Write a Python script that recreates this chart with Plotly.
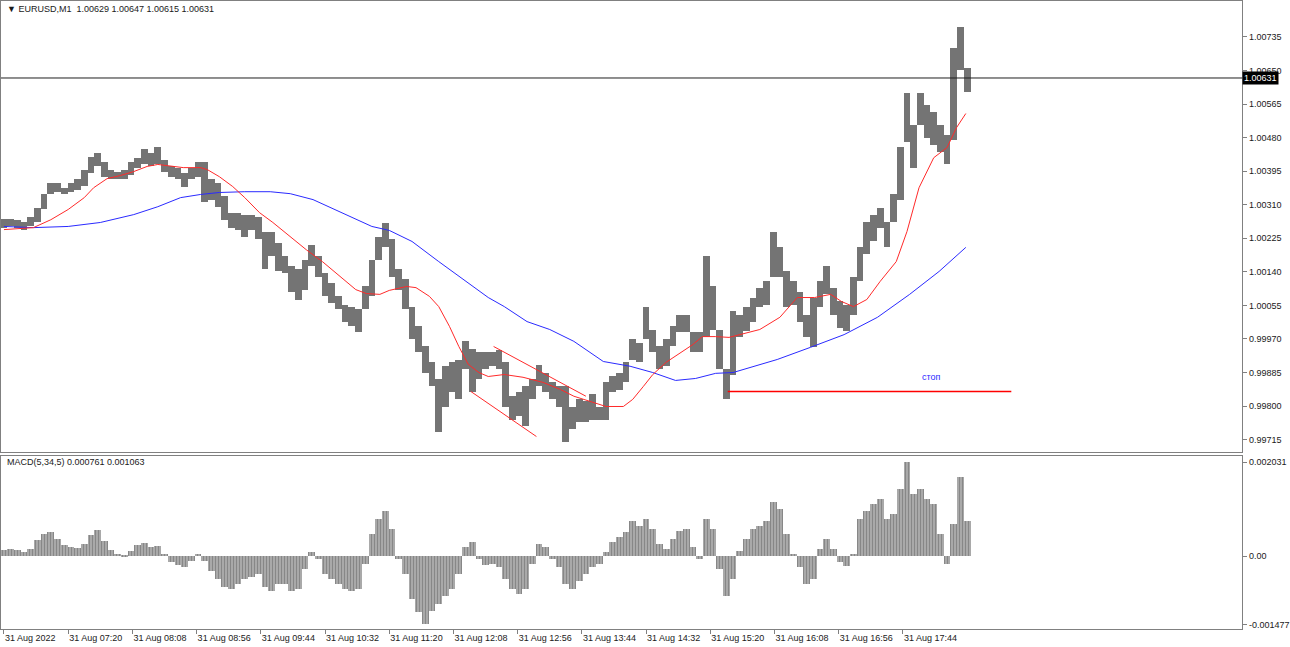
import plotly.graph_objects as go

# ---------------- data (EURUSD M1, 31 Aug 2022) ----------------
# price columns: one column per 5 minutes, minutes counted from 06:32
col_minutes = [5 * k for k in range(145)]

price_high = [
    1.00275, 1.00275, 1.00272, 1.00267, 1.00278, 1.00303, 1.00336, 1.00366, 1.00366, 1.00353,
    1.00364, 1.00374, 1.00399, 1.00432, 1.00442, 1.00419, 1.00399, 1.00394, 1.00399, 1.00417,
    1.00429, 1.00452, 1.00442, 1.00455, 1.00424, 1.00407, 1.00404, 1.00391, 1.00404, 1.00419,
    1.00417, 1.00374, 1.00366, 1.00331, 1.00290, 1.00290, 1.00285, 1.00285, 1.00280, 1.00242,
    1.00242, 1.00214, 1.00179, 1.00154, 1.00146, 1.00171, 1.00207, 1.00179, 1.00138, 1.00113,
    1.00078, 1.00057, 1.00050, 1.00045, 1.00103, 1.00171, 1.00229, 1.00265, 1.00222, 1.00146,
    1.00121, 1.00052, 1.00002, 0.99951, 0.99911, 0.99868, 0.99901, 0.99911, 0.99918, 0.99964,
    0.99944, 0.99936, 0.99938, 0.99936, 0.99941, 0.99911, 0.99825, 0.99835, 0.99850, 0.99868,
    0.99903, 0.99885, 0.99860, 0.99850, 0.99850, 0.99799, 0.99817, 0.99812, 0.99830, 0.99799,
    0.99860, 0.99875, 0.99885, 0.99911, 0.99969, 0.99961, 1.00052, 0.99994, 0.99951, 0.99969,
    1.00002, 1.00032, 1.00032, 0.99987, 0.99987, 1.00179, 1.00103, 0.99994, 0.99893, 1.00040,
    1.00032, 1.00050, 1.00075, 1.00100, 1.00116, 1.00242, 1.00202, 1.00141, 1.00116, 1.00090,
    1.00032, 1.00075, 1.00116, 1.00154, 1.00100, 1.00065, 1.00057, 1.00126, 1.00202, 1.00267,
    1.00285, 1.00303, 1.00267, 1.00336, 1.00455, 1.00594, 1.00513, 1.00594, 1.00563, 1.00546,
    1.00513, 1.00487, 1.00708, 1.00761, 1.00657,
]
price_low = [
    1.00250, 1.00255, 1.00252, 1.00247, 1.00255, 1.00267, 1.00298, 1.00336, 1.00343, 1.00338,
    1.00343, 1.00348, 1.00358, 1.00391, 1.00407, 1.00381, 1.00376, 1.00374, 1.00374, 1.00386,
    1.00404, 1.00412, 1.00407, 1.00412, 1.00394, 1.00381, 1.00374, 1.00356, 1.00374, 1.00379,
    1.00318, 1.00323, 1.00305, 1.00272, 1.00252, 1.00247, 1.00229, 1.00247, 1.00222, 1.00146,
    1.00179, 1.00141, 1.00138, 1.00088, 1.00070, 1.00095, 1.00154, 1.00128, 1.00078, 1.00062,
    1.00045, 1.00012, 1.00002, 0.99987, 1.00045, 1.00078, 1.00171, 1.00204, 1.00128, 1.00095,
    1.00045, 0.99969, 0.99936, 0.99885, 0.99850, 0.99734, 0.99799, 0.99835, 0.99817, 0.99893,
    0.99835, 0.99868, 0.99893, 0.99901, 0.99893, 0.99799, 0.99766, 0.99774, 0.99749, 0.99817,
    0.99850, 0.99835, 0.99817, 0.99799, 0.99708, 0.99741, 0.99759, 0.99759, 0.99766, 0.99766,
    0.99766, 0.99835, 0.99842, 0.99860, 0.99918, 0.99911, 0.99969, 0.99936, 0.99893, 0.99901,
    0.99951, 0.99987, 0.99987, 0.99936, 0.99936, 0.99976, 0.99994, 0.99893, 0.99817, 0.99880,
    0.99974, 0.99989, 1.00014, 1.00050, 1.00057, 1.00126, 1.00126, 1.00050, 1.00057, 1.00014,
    0.99974, 0.99949, 1.00050, 1.00083, 1.00032, 0.99999, 0.99989, 1.00032, 1.00116, 1.00184,
    1.00217, 1.00252, 1.00202, 1.00267, 1.00323, 1.00470, 1.00404, 1.00513, 1.00480, 1.00462,
    1.00444, 1.00412, 1.00475, 1.00652, 1.00596,
]

# moving averages (red = fast, blue = slow)
red_minutes = [0, 22, 35, 48, 60, 67, 77, 87, 97, 107, 115, 122, 134, 147, 152, 161, 171, 180, 191, 201,
               214, 226, 238, 251, 263, 271, 281, 288, 301, 308, 318, 325, 333, 340, 347, 355, 362, 374, 388, 403,
               416, 426, 438, 450, 463, 470, 478, 485, 495, 507, 515, 522, 532, 542, 565, 580, 593, 606, 618, 626,
               635, 645, 655, 667, 675, 684, 695, 705, 712, 719]
red_values = [1.00247, 1.00252, 1.00272, 1.00298, 1.00328, 1.00353, 1.00376, 1.00384, 1.00394, 1.00407,
              1.00412, 1.00409, 1.00404, 1.00404, 1.00399, 1.00381, 1.00356, 1.00328, 1.00290, 1.00265,
              1.00229, 1.00196, 1.00166, 1.00128, 1.00095, 1.00085, 1.00083, 1.00093, 1.00103, 1.00100,
              1.00078, 1.00052, 1.00002, 0.99951, 0.99906, 0.99885, 0.99875, 0.99880, 0.99873, 0.99860,
              0.99842, 0.99825, 0.99812, 0.99799, 0.99799, 0.99817, 0.99850, 0.99880, 0.99911, 0.99938,
              0.99956, 0.99976, 0.99976, 0.99974, 0.99994, 1.00025, 1.00075, 1.00075, 1.00083, 1.00065,
              1.00052, 1.00070, 1.00116, 1.00166, 1.00242, 1.00353, 1.00429, 1.00455, 1.00505, 1.00541]

blue_minutes = [0, 22, 48, 72, 97, 115, 132, 147, 161, 180, 199, 214, 231, 251, 275, 288, 305, 325, 345, 362,
                374, 391, 408, 426, 448, 468, 485, 502, 517, 532, 545, 578, 603, 628, 653, 677, 699, 719]
blue_values = [1.00255, 1.00252, 1.00255, 1.00265, 1.00285, 1.00305, 1.00328, 1.00336, 1.00341, 1.00343,
               1.00343, 1.00338, 1.00323, 1.00293, 1.00255, 1.00245, 1.00217, 1.00166, 1.00116, 1.00075,
               1.00052, 1.00014, 0.99994, 0.99964, 0.99913, 0.99901, 0.99885, 0.99865, 0.99870, 0.99883,
               0.99885, 0.99918, 0.99949, 0.99981, 1.00025, 1.00083, 1.00141, 1.00202]

# MACD(5,34,5) histogram, one value per 5-minute column
macd_values = [
    0.00013, 0.00015, 0.00013, 0.00009, 0.00015, 0.00035, 0.00048, 0.00052, 0.00037, 0.00024,
    0.00019, 0.00017, 0.00026, 0.00045, 0.00056, 0.00032, 0.00013, 0.00002, -0.00002, 0.00011,
    0.00024, 0.00028, 0.00019, 0.00022, 0.00002, -0.00013, -0.00019, -0.00024, -0.00011, 0.00004,
    -0.00011, -0.00032, -0.00050, -0.00067, -0.00071, -0.00060, -0.00050, -0.00045, -0.00039, -0.00067,
    -0.00076, -0.00060, -0.00060, -0.00076, -0.00071, -0.00028, 0.00009, -0.00006, -0.00039, -0.00050,
    -0.00060, -0.00071, -0.00076, -0.00071, -0.00017, 0.00048, 0.00080, 0.00097, 0.00058, -0.00006,
    -0.00039, -0.00093, -0.00121, -0.00148, -0.00119, -0.00104, -0.00086, -0.00071, -0.00039, 0.00019,
    0.00030, -0.00006, -0.00019, -0.00017, -0.00024, -0.00050, -0.00071, -0.00082, -0.00071, -0.00017,
    0.00026, 0.00019, -0.00006, -0.00024, -0.00060, -0.00071, -0.00054, -0.00039, -0.00024, -0.00017,
    0.00009, 0.00030, 0.00041, 0.00052, 0.00076, 0.00065, 0.00080, 0.00058, 0.00026, 0.00015,
    0.00037, 0.00054, 0.00058, 0.00019, -0.00006, 0.00080, 0.00058, -0.00028, -0.00086, -0.00050,
    0.00011, 0.00037, 0.00058, 0.00065, 0.00076, 0.00117, 0.00102, 0.00048, 0.00002, -0.00024,
    -0.00060, -0.00050, 0.00015, 0.00037, 0.00015, -0.00013, -0.00022, 0.00004, 0.00080, 0.00097,
    0.00112, 0.00123, 0.00080, 0.00091, 0.00145, 0.00203, 0.00134, 0.00145, 0.00123, 0.00112,
    0.00048, -0.00017, 0.00069, 0.00171, 0.00076,
]

# drawn objects
current_price = 1.00631
channel_upper_minutes = [366, 435]
channel_upper_prices = [0.99951, 0.99825]
channel_lower_minutes = [349, 398]
channel_lower_prices = [0.99837, 0.99723]
stop_minutes = [541, 753]
stop_price = 0.99837
stop_label_minute = 693
stop_label_price = 0.99873

# axes
price_ticks = [0.99715, 0.99800, 0.99885, 0.99970, 1.00055, 1.00140, 1.00225,
               1.00310, 1.00395, 1.00480, 1.00565, 1.00650, 1.00735]
price_tick_text = ["0.99715", "0.99800", "0.99885", "0.99970", "1.00055", "1.00140", "1.00225",
                   "1.00310", "1.00395", "1.00480", "1.00565", "1.00650", "1.00735"]
macd_ticks = [-0.001477, 0.0, 0.002031]
macd_tick_text = ["-0.001477", "0.00", "0.002031"]
time_ticks = [0, 48, 96, 144, 192, 240, 288, 336, 384, 432, 480, 528, 576, 624, 672]
time_tick_text = ["31 Aug 2022", "31 Aug 07:20", "31 Aug 08:08", "31 Aug 08:56", "31 Aug 09:44",
                  "31 Aug 10:32", "31 Aug 11:20", "31 Aug 12:08", "31 Aug 12:56", "31 Aug 13:44",
                  "31 Aug 14:32", "31 Aug 15:20", "31 Aug 16:08", "31 Aug 16:56", "31 Aug 17:44"]

# ---------------- figure ----------------
W, H = 1290, 647
FONT = "Tahoma, 'Liberation Sans', Arial, sans-serif"
TXT = "#1a1a1a"
AX = "#808080"
x_right = 1247 / W
main_dom = [1 - 453 / H, 1 - 1 / H]
macd_dom = [1 - 630 / H, 1 - 457 / H]
x_range = [-2.23, 925.6]

fig = go.Figure()

fig.add_trace(go.Bar(
    x=col_minutes, y=[h - l for h, l in zip(price_high, price_low)], base=price_low,
    width=5, marker=dict(color="#747474", line=dict(width=0)),
    xaxis="x", yaxis="y", hoverinfo="skip"))

fig.add_trace(go.Scatter(x=blue_minutes, y=blue_values, mode="lines",
                         line=dict(color="#2a2aff", width=1), xaxis="x", yaxis="y"))
fig.add_trace(go.Scatter(x=red_minutes, y=red_values, mode="lines",
                         line=dict(color="#ff2a2a", width=1), xaxis="x", yaxis="y"))

fig.add_trace(go.Scatter(x=channel_upper_minutes, y=channel_upper_prices, mode="lines",
                         line=dict(color="#ff2a2a", width=1), xaxis="x", yaxis="y"))
fig.add_trace(go.Scatter(x=channel_lower_minutes, y=channel_lower_prices, mode="lines",
                         line=dict(color="#ff2a2a", width=1), xaxis="x", yaxis="y"))
fig.add_trace(go.Scatter(x=stop_minutes, y=[stop_price, stop_price], mode="lines",
                         line=dict(color="#ff0000", width=1.3), xaxis="x", yaxis="y"))

fig.add_trace(go.Bar(
    x=col_minutes, y=macd_values, width=5,
    marker=dict(color="#7a7a7a", line=dict(width=0),
                pattern=dict(shape="|", fgcolor="#5a5a5a", bgcolor="#b4b4b4", size=3, solidity=0.5)),
    xaxis="x2", yaxis="y2", hoverinfo="skip"))

fig.add_shape(type="line", xref="x domain", yref="y", x0=0, x1=1,
              y0=current_price, y1=current_price, line=dict(color="#202020", width=1))

annotations = [
    dict(xref="paper", yref="paper", x=4 / W, y=1 - 9 / H, xanchor="left", yanchor="middle",
         text="▼ EURUSD,M1  1.00629 1.00647 1.00615 1.00631", showarrow=False,
         font=dict(family=FONT, size=9, color=TXT)),
    dict(xref="paper", yref="paper", x=4 / W, y=1 - 463 / H, xanchor="left", yanchor="middle",
         text="MACD(5,34,5) 0.000761 0.001063", showarrow=False,
         font=dict(family=FONT, size=9, color=TXT)),
    dict(xref="x domain", yref="y", x=1, y=current_price, xanchor="left", yanchor="middle",
         text="1.00631", showarrow=False, bgcolor="black", borderpad=1,
         font=dict(family=FONT, size=9, color="white")),
    dict(xref="x", yref="y", x=stop_label_minute, y=stop_label_price, xanchor="center",
         yanchor="middle", text="стоп", showarrow=False,
         font=dict(family=FONT, size=9, color="#2a2aff")),
]

axis_common = dict(showgrid=False, zeroline=False, showline=True, mirror=True,
                   linecolor=AX, linewidth=1, tickcolor=AX, ticks="outside", ticklen=4,
                   tickfont=dict(family=FONT, size=9, color=TXT))

fig.update_layout(
    width=W, height=H, margin=dict(l=0, r=0, t=0, b=0),
    paper_bgcolor="white", plot_bgcolor="white", showlegend=False,
    bargap=0, annotations=annotations,
    xaxis=dict(domain=[0, x_right], range=x_range, anchor="y", showticklabels=False,
               **{k: v for k, v in axis_common.items() if k not in ("ticks", "ticklen")}, ticks=""),
    yaxis=dict(domain=main_dom, range=[0.99683, 1.00826], side="right", anchor="x",
               tickvals=price_ticks, ticktext=price_tick_text, **axis_common),
    xaxis2=dict(domain=[0, x_right], range=x_range, anchor="y2",
                tickvals=time_ticks, ticktext=time_tick_text,
                ticklabelposition="outside right", **axis_common),
    yaxis2=dict(domain=macd_dom, range=[-0.001577, 0.002161], side="right", anchor="x2",
                tickvals=macd_ticks, ticktext=macd_tick_text, **axis_common),
)

fig.write_html("out.html")
